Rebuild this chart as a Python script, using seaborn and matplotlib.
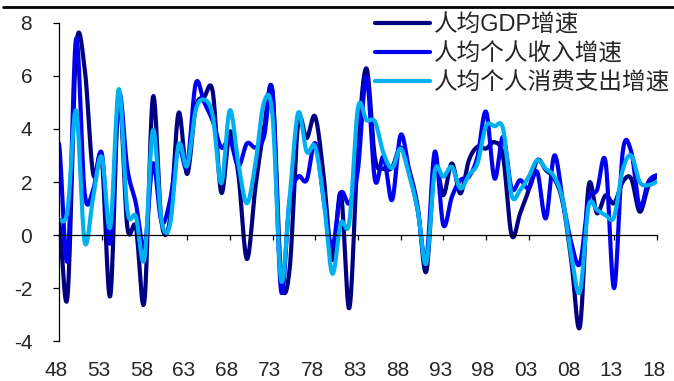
import numpy as np
import pandas as pd
import matplotlib
matplotlib.use("Agg")
import matplotlib.pyplot as plt
import matplotlib.transforms as mtransforms
from matplotlib.lines import Line2D
import seaborn as sns

# ---------------- data ----------------
years = list(range(1948, 2019))
series_names = ["人均GDP增速", "人均个人收入增速", "人均个人消费支出增速"]

gdp = [0.5, -2.3, 7.0, 6.3, 2.3, 2.9, -2.3, 5.2, 0.3, 0.3,
       -2.5, 5.2, 0.5, 0.6, 4.6, 2.3, 4.8, 5.2, 5.4, 1.6,
       3.9, 2.3, -0.9, 1.8, 4.0, 5.4, -1.5, -1.3, 4.2, 3.65,
       4.46, 2.2, -0.94, 1.58, -2.75, 3.3, 6.28, 2.9, 2.5, 2.55,
       3.3, 2.45, 1.07, -1.38, 2.6, 1.5, 2.7, 1.57, 2.82, 3.33,
       3.26, 3.5, 2.95, 0.0, 0.82, 1.7, 2.82, 2.45, 2.13, 1.2,
       -1.0, -3.45, 1.82, 0.82, 1.5, 1.2, 2.0, 2.13, 0.88, 1.82, 2.2]

income = [3.45, -0.94, 7.4, 1.6, 1.7, 3.1, -0.3, 5.3, 2.5, 1.2,
          -0.5, 2.7, 0.5, 1.3, 3.3, 2.6, 5.7, 5.0, 4.3, 3.3,
          3.6, 2.6, 3.45, 3.3, 3.7, 5.4, -2.1, 1.3, 2.2, 2.07,
          3.46, 1.3, -0.44, 1.57, 1.2, 2.45, 5.97, 2.07, 2.95, 1.32,
          3.77, 2.45, 0.94, -0.94, 3.14, 0.38, 1.44, 2.07, 2.2, 2.95,
          4.65, 2.13, 3.7, 1.76, 2.07, 1.76, 2.38, 0.63, 3.0, 1.3,
          -0.3, -1.07, 1.32, 1.7, 2.76, -2.0, 3.1, 3.15, 1.07, 2.0, 2.26]

consumption = [0.56, 0.94, 4.7, -0.25, 1.44, 2.95, 0.3, 5.5, 0.94, 0.7,
               -0.9, 3.95, 0.56, 0.4, 3.4, 2.6, 4.7, 5.1, 4.5, 1.95,
               4.7, 2.7, 1.2, 2.7, 5.0, 4.5, -1.7, 1.4, 4.6, 3.14,
               3.33, 1.3, -1.45, 0.45, 0.5, 4.78, 4.33, 4.27, 3.08, 2.52,
               3.26, 2.26, 0.94, -1.07, 2.4, 2.2, 2.57, 1.76, 2.26, 2.7,
               4.1, 4.1, 4.0, 1.5, 1.7, 2.2, 2.82, 2.5, 2.2, 1.3,
               -0.8, -2.13, 1.07, 0.94, 0.75, 0.69, 2.45, 3.0, 2.0, 1.88, 2.0]

xtick_years = [1948, 1953, 1958, 1963, 1968, 1973, 1978, 1983, 1988, 1993, 1998, 2003, 2008, 2013, 2018]
xtick_labels = ["48", "53", "58", "63", "68", "73", "78", "83", "88", "93", "98", "03", "08", "13", "18"]
yticks = [-4, -2, 0, 2, 4, 6, 8]

colors = ["#000080", "#0000F0", "#00B0F0"]


# smooth-line rendering (like a spreadsheet "smoothed line"), drawn through the data points
def smooth_curve(xs, ys, n=16):
    xs = np.asarray(xs, float)
    ys = np.asarray(ys, float)
    p = np.concatenate([[ys[0]], ys, [ys[-1]]])
    out_x, out_y = [], []
    for i in range(len(ys) - 1):
        p0, p1, p2, p3 = p[i], p[i + 1], p[i + 2], p[i + 3]
        t = np.linspace(0, 1, n, endpoint=False)
        y = 0.5 * ((2 * p1) + (-p0 + p2) * t + (2 * p0 - 5 * p1 + 4 * p2 - p3) * t ** 2
                   + (-p0 + 3 * p1 - 3 * p2 + p3) * t ** 3)
        x = xs[i] + (xs[i + 1] - xs[i]) * t
        out_x.extend(x)
        out_y.extend(y)
    out_x.append(xs[-1])
    out_y.append(ys[-1])
    return np.array(out_x), np.array(out_y)


frames = []
for name, vals in zip(series_names, [gdp, income, consumption]):
    sx, sy = smooth_curve(years, vals)
    frames.append(pd.DataFrame({"year": sx, "value": sy, "series": name}))
df = pd.concat(frames, ignore_index=True)

sns.set_theme(style="white")
plt.rcParams["font.family"] = ["Liberation Sans", "Noto Sans CJK SC", "DejaVu Sans"]

fig = plt.figure(figsize=(6.74, 3.81), dpi=100)
ax = fig.add_axes([59 / 674, 1 - 341.3 / 381, (656.8 - 59) / 674, (341.3 - 22.7) / 381])
ax.set_facecolor("white")

sns.lineplot(data=df, x="year", y="value", hue="series", hue_order=series_names,
             palette=colors, estimator=None, sort=False, linewidth=3.0, ax=ax)

ax.set_xlim(1948, 2018)
ax.set_ylim(-4, 8)
ax.set_xlabel("")
ax.set_ylabel("")

for s in ["top", "right"]:
    ax.spines[s].set_visible(False)
ax.spines["left"].set_color("black")
ax.spines["left"].set_linewidth(0.9)
ax.spines["bottom"].set_position(("data", 0))
ax.spines["bottom"].set_color("black")
ax.spines["bottom"].set_linewidth(0.9)

ax.set_yticks(yticks)
ax.set_yticklabels([str(v) for v in yticks])
ax.set_xticks(xtick_years)
ax.set_xticklabels(xtick_labels)
ax.tick_params(axis="y", direction="out", length=4.3, width=0.9, color="black",
               pad=15, labelsize=15, left=True)
ax.tick_params(axis="x", direction="out", length=3.6, width=0.9, color="black",
               pad=87, labelsize=15, bottom=True)
shift = mtransforms.ScaledTranslation(-3 / 100, 0, fig.dpi_scale_trans)
for lab in ax.get_xticklabels():
    lab.set_transform(lab.get_transform() + shift)

handles, labels = ax.get_legend_handles_labels()
ax.legend(handles, labels, loc="upper left", bbox_to_anchor=(375 / 674, 1 - 14 / 381),
          bbox_transform=fig.transFigure, frameon=False,
          handlelength=2.33, handletextpad=0.15, labelspacing=0.3,
          borderpad=0, borderaxespad=0,
          prop={"family": ["Liberation Sans", "Noto Sans CJK SC"], "size": 17})
for line in ax.get_legend().get_lines():
    line.set_linewidth(3.0)

# thick rule across the top of the figure
fig.add_artist(Line2D([3 / 674, 1.0], [1 - 7 / 381, 1 - 7 / 381], transform=fig.transFigure,
                      color="black", linewidth=2.0))

fig.savefig("out.png", dpi=100)
